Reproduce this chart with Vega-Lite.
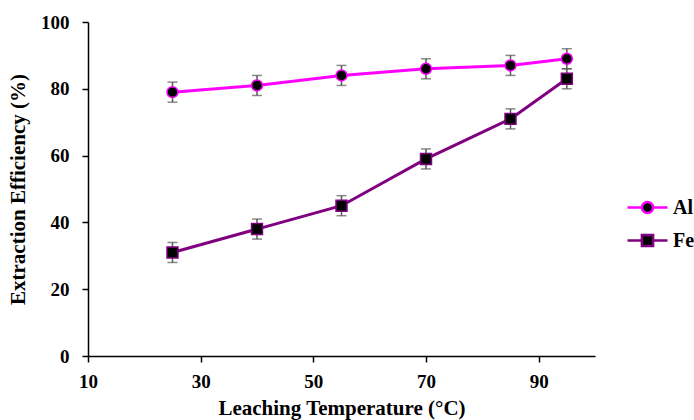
{
  "$schema": "https://vega.github.io/schema/vega-lite/v6.json",
  "autosize": "none",
  "width": 507,
  "height": 334,
  "padding": {"left": 88, "top": 22, "right": 99, "bottom": 64},
  "background": "white",
  "config": {
    "view": {"stroke": null},
    "font": "Liberation Serif",
    "axis": {
      "grid": false,
      "domainColor": "black",
      "domainWidth": 1.5,
      "tickColor": "black",
      "tickWidth": 1.5,
      "tickSize": 6,
      "labelFont": "Liberation Serif",
      "labelFontWeight": "bold",
      "labelFontSize": 19,
      "labelColor": "black",
      "labelFlush": false,
      "titleFont": "Liberation Serif",
      "titleFontWeight": "bold",
      "titleFontSize": 21,
      "titleColor": "black"
    }
  },
  "data": {
    "values": [
      {"T": 25, "E": 79, "err": 3, "s": "Al"},
      {"T": 40, "E": 81, "err": 3, "s": "Al"},
      {"T": 55, "E": 84, "err": 3, "s": "Al"},
      {"T": 70, "E": 86, "err": 3, "s": "Al"},
      {"T": 85, "E": 87, "err": 3, "s": "Al"},
      {"T": 95, "E": 89, "err": 3, "s": "Al"},
      {"T": 25, "E": 31, "err": 3, "s": "Fe"},
      {"T": 40, "E": 38, "err": 3, "s": "Fe"},
      {"T": 55, "E": 45, "err": 3, "s": "Fe"},
      {"T": 70, "E": 59, "err": 3, "s": "Fe"},
      {"T": 85, "E": 71, "err": 3, "s": "Fe"},
      {"T": 95, "E": 83, "err": 3, "s": "Fe"}
    ]
  },
  "encoding": {
    "x": {
      "field": "T",
      "type": "quantitative",
      "scale": {"domain": [10, 100], "nice": false, "zero": false},
      "axis": {"values": [10, 30, 50, 70, 90], "title": "Leaching Temperature (°C)", "labelPadding": 10, "titlePadding": 6}
    },
    "y": {
      "field": "E",
      "type": "quantitative",
      "scale": {"domain": [0, 100]},
      "axis": {"values": [0, 20, 40, 60, 80, 100], "title": "Extraction Efficiency (%)", "labelPadding": 13, "titlePadding": 12}
    }
  },
  "layer": [
    {
      "mark": {"type": "line", "strokeWidth": 3},
      "encoding": {
        "color": {
          "field": "s",
          "type": "nominal",
          "scale": {"domain": ["Al", "Fe"], "range": ["#FF00FF", "#800080"]},
          "legend": {
            "title": null,
            "orient": "none",
            "legendX": 538,
            "legendY": 164,
            "symbolSize": 1600,
            "rowPadding": -5,
            "labelFont": "Liberation Serif",
            "labelFontWeight": "bold",
            "labelFontSize": 20,
            "labelColor": "black",
            "labelOffset": 4,
            "encode": {
              "symbols": {
                "update": {
                  "shape": {"signal": "datum.value === 'Al' ? 'M-1,0L-0.28,0M0.28,0L1,0M0.28,0A0.28,0.28 0 1,1 -0.28,0A0.28,0.28 0 1,1 0.28,0Z' : 'M-1,0L-0.28,0M0.28,0L1,0M-0.28,-0.28L0.28,-0.28L0.28,0.28L-0.28,0.28Z'"},
                  "fill": {"value": "black"},
                  "fillOpacity": {"value": 1},
                  "strokeWidth": {"value": 2.5}
                }
              }
            }
          }
        }
      }
    },
    {
      "mark": {"type": "errorbar", "ticks": {"size": 10}, "rule": true, "color": "#595959", "thickness": 1.5},
      "encoding": {
        "yError": {"field": "err"},
        "detail": {"field": "s"}
      }
    },
    {
      "transform": [{"filter": "datum.s === 'Al'"}],
      "mark": {"type": "point", "shape": "circle", "filled": false, "fill": "black", "fillOpacity": 1, "stroke": "#FF00FF", "size": 120, "strokeWidth": 1.5, "opacity": 1}
    },
    {
      "transform": [{"filter": "datum.s === 'Fe'"}],
      "mark": {"type": "point", "shape": "square", "filled": false, "fill": "black", "fillOpacity": 1, "stroke": "#800080", "size": 120, "strokeWidth": 1.5, "opacity": 1}
    }
  ]
}
